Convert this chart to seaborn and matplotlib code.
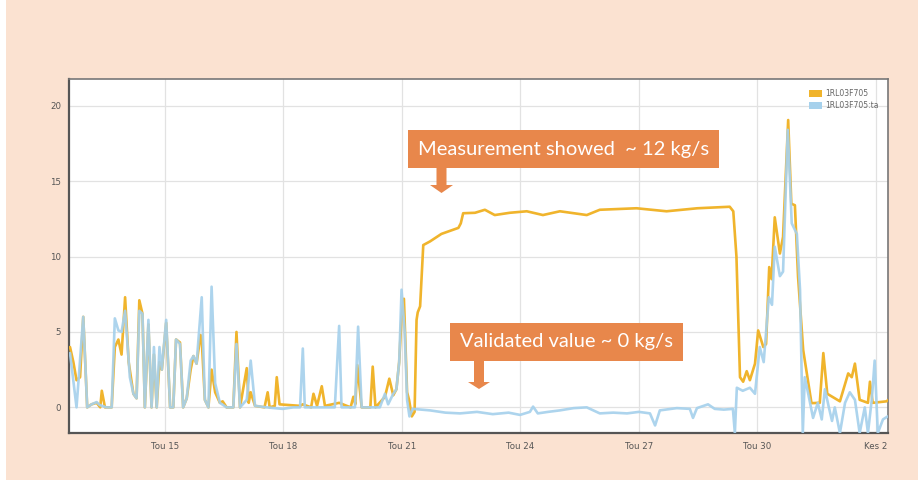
import numpy as np
import pandas as pd
import matplotlib
matplotlib.use("Agg")
import matplotlib.pyplot as plt
import matplotlib.patches as mpatches
import seaborn as sns

# ---- data (x = day of May, values in kg/s) ----
meas_days = [12.595, 12.68, 12.76, 12.85, 12.93, 13.03, 13.14, 13.27, 13.36, 13.40, 13.48, 13.65,
             13.73, 13.82, 13.90, 13.99, 14.08, 14.20, 14.28, 14.35, 14.43, 14.49, 14.58, 14.66,
             14.72, 14.79, 14.86, 14.92, 15.03, 15.13, 15.21, 15.28, 15.38, 15.46, 15.55, 15.65,
             15.72, 15.80, 15.90, 15.93, 16.01, 16.10, 16.18, 16.27, 16.39, 16.46, 16.56, 16.73,
             16.81, 16.90, 17.07, 17.12, 17.17, 17.28, 17.52, 17.60, 17.65, 17.78, 17.83, 17.90,
             18.42, 18.49, 18.70, 18.76, 18.85, 18.97, 19.05, 19.41, 19.70, 19.77, 19.82, 19.87,
             19.98, 20.20, 20.26, 20.33, 20.57, 20.68, 20.78, 20.86, 20.93, 20.99, 21.05, 21.13,
             21.18, 21.25, 21.32, 21.37, 21.40, 21.46, 21.54, 21.71, 22.00, 22.43, 22.49, 22.55,
             22.85, 23.10, 23.35, 23.73, 24.16, 24.57, 25.00, 25.68, 26.01, 26.94, 27.70, 28.48,
             29.30, 29.39, 29.47, 29.56, 29.64, 29.73, 29.81, 29.94, 30.02, 30.15, 30.22, 30.30,
             30.36, 30.44, 30.57, 30.65, 30.78, 30.86, 30.95, 31.03, 31.16, 31.28, 31.37, 31.58,
             31.67, 31.77, 31.96, 32.09, 32.30, 32.39, 32.47, 32.59, 32.80, 32.85, 32.92, 33.27, 33.32]
meas_vals = [4.0, 3.0, 1.8, 2.0, 6.0, 0.0, 0.2, 0.3, 0.0, 1.1, 0.0, 0.0,
             4.0, 4.5, 3.5, 7.3, 3.0, 0.9, 0.6, 7.1, 6.2, 0.0, 5.5, 0.0,
             3.5, 0.0, 3.0, 2.5, 5.6, 0.0, 0.0, 4.5, 4.3, 0.0, 0.6, 2.5,
             3.4, 2.9, 4.8, 4.5, 0.5, 0.0, 2.5, 1.0, 0.3, 0.4, 0.0, 0.0,
             5.0, 0.0, 2.6, 0.3, 1.0, 0.1, 0.0, 1.0, 0.0, 0.1, 2.0, 0.2,
             0.1, 0.2, 0.0, 0.9, 0.1, 1.4, 0.1, 0.3, 0.0, 0.7, 0.2, 2.8,
             0.0, 0.0, 2.7, 0.0, 0.7, 1.9, 0.8, 1.2, 3.0, 6.0, 7.2, 1.0,
             0.5, -0.6, -0.3, 5.8, 6.3, 6.7, 10.76, 11.0, 11.5, 11.9, 12.2, 12.87,
             12.9, 13.1, 12.75, 12.9, 13.0, 12.75, 13.0, 12.75, 13.1, 13.2, 13.0, 13.2,
             13.3, 13.0, 10.0, 2.0, 1.7, 2.4, 1.8, 2.9, 5.1, 4.0, 4.2, 9.3,
             8.5, 12.6, 10.2, 11.3, 19.05, 13.5, 13.4, 8.66, 3.8, 1.8, 0.28, 0.3,
             3.6, 0.9, 0.6, 0.4, 2.25, 2.0, 2.9, 0.5, 0.3, 1.7, 0.3, 0.4, 0.5]

valid_days = [12.595, 12.76, 12.93, 13.03, 13.14, 13.27, 13.35, 13.52, 13.65, 13.73, 13.82, 13.90,
              13.99, 14.11, 14.20, 14.28, 14.35, 14.43, 14.49, 14.58, 14.66, 14.72, 14.79, 14.86,
              14.92, 15.03, 15.13, 15.21, 15.28, 15.38, 15.46, 15.55, 15.65, 15.72, 15.80, 15.93,
              16.01, 16.10, 16.18, 16.27, 16.39, 16.56, 16.73, 16.81, 16.90, 17.07, 17.17, 17.28,
              17.57, 17.98, 18.25, 18.42, 18.49, 18.54, 19.30, 19.41, 19.47, 19.81, 19.89, 19.98,
              20.44, 20.57, 20.65, 20.78, 20.86, 20.93, 20.99, 21.07, 21.13, 21.19, 21.27, 21.71,
              22.10, 22.47, 22.90, 23.30, 23.70, 23.99, 24.24, 24.32, 24.44, 24.70, 25.00, 25.35,
              25.68, 26.01, 26.35, 26.70, 27.00, 27.28, 27.41, 27.53, 27.96, 28.29, 28.37, 28.47,
              28.75, 28.92, 29.15, 29.38, 29.43, 29.48, 29.63, 29.81,
              29.94, 30.06, 30.16, 30.29, 30.37, 30.44, 30.57, 30.65, 30.77, 30.87, 31.00, 31.08,
              31.15, 31.20, 31.28, 31.41, 31.53, 31.63, 31.71, 31.81, 31.89, 31.96, 32.09, 32.22,
              32.34, 32.47, 32.59, 32.72, 32.80, 32.90, 32.97, 33.05, 33.18, 33.30]
valid_vals = [3.6, 0.0, 6.0, 0.0, 0.2, 0.35, 0.15, 0.0, 0.0, 5.9, 5.1, 5.0,
              6.4, 2.0, 0.9, 0.6, 6.4, 6.2, 0.0, 5.8, 0.0, 4.0, 0.0, 4.0,
              2.5, 5.8, 0.0, 0.0, 4.5, 4.2, 0.0, 0.6, 3.1, 3.4, 2.9, 7.3,
              0.5, 0.0, 8.0, 1.6, 0.3, 0.0, 0.0, 4.2, 0.0, 0.5, 3.1, 0.1,
              0.0, -0.1, 0.0, 0.0, 3.9, 0.0, 0.0, 5.4, 0.0, 0.0, 5.35, 0.0,
              0.0, 0.9, 0.2, 0.9, 1.2, 3.0, 7.8, 5.0, 0.5, -0.6, -0.1, -0.2,
              -0.35, -0.4, -0.3, -0.45, -0.35, -0.5, -0.3, 0.05, -0.4, -0.3, -0.2, -0.05,
              0.0, -0.4, -0.35, -0.4, -0.3, -0.4, -1.2, -0.2, -0.05, -0.1, -0.7, -0.05,
              0.2, -0.1, -0.15, -0.1, -1.7, 1.3, 1.1, 1.3,
              0.9, 4.0, 3.0, 7.3, 6.8, 10.65, 8.7, 9.0, 18.4, 12.2, 11.5, 7.8,
              -1.7, 2.0, 1.0, -0.7, 0.3, -0.8, 1.2, 0.0, -0.9, 0.0, -1.7, 0.3,
              1.0, 0.5, -1.7, 0.0, -1.7, 0.6, 3.1, -1.7, -0.8, -0.6]

tick_days = [15, 18, 21, 24, 27, 30, 33]
tick_labels = ["Tou 15", "Tou 18", "Tou 21", "Tou 24", "Tou 27", "Tou 30", "Kes 2"]
y_ticks = [0, 5, 10, 15, 20]
series_names = ["1RL03F705", "1RL03F705:ta"]

# ---- styling ----
W, H = 918, 483
sns.set_style("white")
plt.rcParams["font.family"] = ["DejaVu Sans"]

YEL = "#f0b42c"
BLU = "#a6d1ec"
PEACH = "#fbe2d1"
BOX = "#e8874b"

fig = plt.figure(figsize=(W / 100, H / 100), dpi=100, facecolor="white")
fig.patches.append(mpatches.Rectangle((6 / W, (H - 480) / H), 1 - 6 / W, 480 / H,
                                      transform=fig.transFigure, facecolor=PEACH,
                                      edgecolor="none", zorder=-10))

def fx(px):
    return px / W

def fy(py):
    return (H - py) / H

ax = fig.add_axes([fx(69.3), fy(432.7), fx(887.7) - fx(69.3), fy(79.3) - fy(432.7)])
ax.set_zorder(1)
ax.set_facecolor("white")

df_m = pd.DataFrame({"day": meas_days, "value": meas_vals})
df_v = pd.DataFrame({"day": valid_days, "value": valid_vals})
sns.lineplot(data=df_m, x="day", y="value", ax=ax, color=YEL, lw=1.9, sort=False, zorder=3)
sns.lineplot(data=df_v, x="day", y="value", ax=ax, color=BLU, lw=1.9, alpha=0.92,
             sort=False, zorder=4)

ax.set_xlim(12.577, 33.30)
ax.set_ylim(-1.68, 21.75)
ax.set_xticks(tick_days)
ax.set_xticklabels(tick_labels)
ax.set_yticks(y_ticks)
ax.set_xlabel("")
ax.set_ylabel("")
ax.grid(True, color="#e2e2e2", lw=0.9)
ax.set_axisbelow(True)
ax.tick_params(axis="both", length=0, labelsize=6.2, labelcolor="#555555")
ax.tick_params(axis="x", pad=7)
ax.tick_params(axis="y", pad=6)
for s in ["left", "bottom"]:
    ax.spines[s].set_color("#555555")
    ax.spines[s].set_linewidth(1.6)
for s in ["top", "right"]:
    ax.spines[s].set_color("#777777")
    ax.spines[s].set_linewidth(1.2)

handles = [mpatches.Patch(facecolor=YEL, edgecolor="none", label=series_names[0]),
           mpatches.Patch(facecolor=BLU, edgecolor="none", label=series_names[1])]
leg = ax.legend(handles=handles, loc="upper right", bbox_to_anchor=(0.995, 0.985),
                frameon=False, fontsize=5.5, handlelength=1.6, handleheight=1.1,
                handletextpad=0.5, labelspacing=0.35, borderaxespad=0.2)
for t in leg.get_texts():
    t.set_color("#666666")

# ---- annotation callouts ----
def callout(x0, y0, x1, y1, text, ax_c, shaft_w, shaft_bot, head_w, tip):
    fig.patches.append(mpatches.Rectangle((fx(x0), fy(y1)), fx(x1) - fx(x0), fy(y0) - fy(y1),
                                          transform=fig.transFigure, facecolor=BOX,
                                          edgecolor="none", zorder=10))
    fig.text(fx((x0 + x1) / 2), fy((y0 + y1) / 2), text, color="white", fontsize=14.5,
             family=["Lato", "DejaVu Sans"], ha="center", va="center", zorder=11)
    pts = [(ax_c - shaft_w / 2, y1), (ax_c + shaft_w / 2, y1), (ax_c + shaft_w / 2, shaft_bot),
           (ax_c + head_w / 2, shaft_bot), (ax_c, tip), (ax_c - head_w / 2, shaft_bot),
           (ax_c - shaft_w / 2, shaft_bot)]
    fig.patches.append(mpatches.Polygon([(fx(a), fy(b)) for a, b in pts], closed=True,
                                        transform=fig.transFigure, facecolor=BOX,
                                        edgecolor="none", zorder=10))

callout(408, 130, 719, 168, "Measurement showed  ~ 12 kg/s", 441.5, 10, 185, 23, 193)
callout(450, 323, 683, 361, "Validated value ~ 0 kg/s", 479, 10, 382, 22, 389)

fig.savefig("out.png", dpi=100, facecolor=fig.get_facecolor())
